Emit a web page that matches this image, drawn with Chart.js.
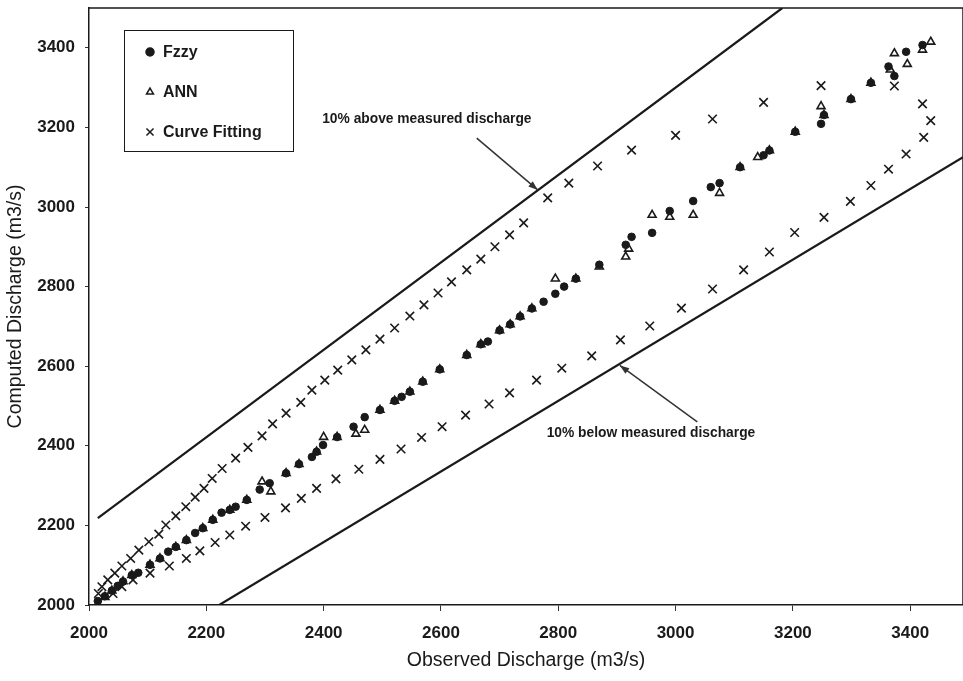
<!DOCTYPE html>
<html><head><meta charset="utf-8">
<script src="https://cdn.jsdelivr.net/npm/chart.js@4.4.1/dist/chart.umd.min.js"></script>
<style>html,body{margin:0;padding:0;background:#fff}#wrap{width:963px;height:681px;position:relative}</style>
</head><body><div id="wrap"><canvas id="c" width="963" height="681"></canvas></div>
<script>
const xTicks=[2000,2200,2400,2600,2800,3000,3200,3400];
const yTicks=[2000,2200,2400,2600,2800,3000,3200,3400];
const seriesNames=['Fzzy','ANN','Curve Fitting'];

const fuzzyX=[2015,2027,2039,2049,2058,2073,2084,2104,2121,2135,2148,2166,2181,2194,2211,2226,2240,2250,2269,2291,2308,2336,2358,2380,2388,2399,2423,2451,2470,2496,2521,2533,2547,2569,2598,2644,2668,2680,2700,2718,2735,2755,2775,2795,2810,2830,2870,2915,2925,2960,2990,3030,3060,3075,3110,3150,3160,3204,3248,3253,3299,3333,3363,3373,3393,3421];
const fuzzyY=[2010,2022,2036,2048,2059,2075,2081,2101,2117,2134,2146,2163,2181,2193,2214,2232,2239,2247,2264,2290,2306,2331,2354,2372,2385,2402,2422,2448,2472,2490,2513,2523,2536,2561,2592,2628,2655,2662,2690,2705,2725,2745,2762,2782,2800,2820,2855,2905,2925,2935,2990,3015,3050,3060,3100,3130,3142,3189,3209,3231,3271,3312,3353,3329,3390,3407];

const annX=[2015,2027,2039,2058,2073,2104,2121,2148,2166,2194,2211,2240,2269,2295,2310,2336,2358,2388,2400,2423,2455,2470,2496,2521,2547,2569,2598,2644,2668,2700,2718,2735,2755,2795,2830,2870,2915,2920,2960,2990,3030,3075,3110,3140,3160,3204,3248,3253,3299,3333,3366,3373,3395,3421,3435];
const annY=[2000,2020,2036,2059,2075,2101,2117,2146,2163,2193,2214,2239,2264,2310,2285,2331,2354,2385,2422,2422,2430,2440,2490,2513,2536,2561,2592,2628,2655,2690,2705,2725,2745,2820,2820,2850,2875,2895,2980,2975,2980,3035,3100,3125,3142,3189,3253,3231,3271,3312,3345,3386,3359,3395,3415];

const cfX=[2016,2022,2032,2044,2056,2071,2085,2102,2119,2131,2148,2165,2181,2196,2210,2227,2250,2271,2295,2313,2336,2361,2380,2402,2424,2448,2472,2496,2521,2547,2571,2595,2618,2644,2668,2692,2717,2741,2782,2818,2867,2925,3000,3063,3150,3248,3373,3421,
 2041,2056,2075,2104,2137,2166,2189,2215,2240,2267,2300,2335,2362,2388,2421,2460,2496,2532,2567,2602,2642,2682,2717,2763,2806,2857,2906,2956,3010,3063,3116,3160,3203,3253,3298,3333,3363,3393,3423,3435];
const cfY=[2029,2046,2063,2080,2098,2117,2138,2159,2178,2201,2224,2247,2271,2293,2318,2343,2369,2396,2425,2455,2482,2509,2540,2565,2590,2616,2641,2668,2696,2726,2754,2784,2812,2842,2869,2900,2930,2960,3023,3060,3103,3143,3180,3221,3263,3305,3304,3259,
 2029,2046,2063,2080,2098,2117,2136,2157,2176,2198,2220,2244,2268,2293,2317,2341,2366,2392,2421,2448,2477,2505,2533,2565,2595,2626,2666,2701,2746,2794,2842,2887,2936,2974,3014,3054,3095,3133,3175,3217];

const upperLineX=[2015,3182], upperLineY=[2218,3500];
const lowerLineX=[2222,3490], lowerLineY=[2000,3125];

const noteTexts=['10% above measured discharge','10% below measured discharge'];
const noteTextX=[2576,2958], noteTextY=[3221,2432];
const noteFromX=[2661,3037], noteFromY=[3173,2460];
const noteToX=[2765,2905], noteToY=[3043,2602];

const zip=(xs,ys)=>xs.map((x,i)=>({x:x,y:ys[i]}));
const INK='#1a1a1a';
const FONT="'Liberation Sans', Arial, sans-serif";

const decor={
  id:'decor',
  afterDraw(chart){
    const ctx=chart.ctx, a=chart.chartArea, xs=chart.scales.x, ys=chart.scales.y;
    ctx.save();
    ctx.strokeStyle=INK; ctx.lineWidth=1.5;
    ctx.beginPath(); ctx.moveTo(a.left,a.top); ctx.lineTo(a.right,a.top); ctx.lineTo(a.right,a.bottom); ctx.stroke();
    ctx.font="bold 13.8px "+FONT; ctx.textAlign='center'; ctx.textBaseline='middle';
    for(let i=0;i<noteTexts.length;i++){
      ctx.fillStyle=INK;
      ctx.fillText(noteTexts[i], xs.getPixelForValue(noteTextX[i]), ys.getPixelForValue(noteTextY[i]));
      const x0=xs.getPixelForValue(noteFromX[i]), y0=ys.getPixelForValue(noteFromY[i]);
      const x1=xs.getPixelForValue(noteToX[i]), y1=ys.getPixelForValue(noteToY[i]);
      ctx.lineWidth=1.5; ctx.strokeStyle='#333';
      ctx.beginPath(); ctx.moveTo(x0,y0); ctx.lineTo(x1,y1); ctx.stroke();
      const ang=Math.atan2(y1-y0,x1-x0), L=10, W=0.35;
      ctx.fillStyle='#333';
      ctx.beginPath(); ctx.moveTo(x1,y1);
      ctx.lineTo(x1-L*Math.cos(ang-W), y1-L*Math.sin(ang-W));
      ctx.lineTo(x1-L*Math.cos(ang+W), y1-L*Math.sin(ang+W));
      ctx.closePath(); ctx.fill();
    }
    const lx=a.left+35, ly=a.top+22, lw=169, lh=121;
    ctx.fillStyle='#fff'; ctx.fillRect(lx,ly,lw,lh);
    ctx.strokeStyle=INK; ctx.lineWidth=1; ctx.strokeRect(lx+0.5,ly+0.5,lw,lh);
    const styles=[{pointStyle:'circle',radius:4,fill:INK},{pointStyle:'triangle',radius:4,fill:'#fff'},{pointStyle:'crossRot',radius:5,fill:INK}];
    ctx.font="bold 16px "+FONT; ctx.textAlign='left'; ctx.textBaseline='middle';
    for(let i=0;i<3;i++){
      const cy=ly+22+i*40;
      ctx.fillStyle=styles[i].fill; ctx.strokeStyle=INK; ctx.lineWidth=1.5;
      Chart.helpers.drawPoint(ctx,{pointStyle:styles[i].pointStyle,radius:styles[i].radius,borderWidth:1.5,rotation:0},lx+26,cy);
      ctx.fillStyle=INK;
      ctx.fillText(seriesNames[i], lx+39, cy+1);
    }
    ctx.restore();
  }
};

new Chart(document.getElementById('c'),{
  type:'scatter',
  data:{datasets:[
    {label:'10% above',type:'line',data:zip(upperLineX,upperLineY),borderColor:INK,borderWidth:2.2,pointRadius:0,fill:false,showLine:true},
    {label:'10% below',type:'line',data:zip(lowerLineX,lowerLineY),borderColor:INK,borderWidth:2.2,pointRadius:0,fill:false,showLine:true},
    {label:seriesNames[2],data:zip(cfX,cfY),pointStyle:'crossRot',pointRadius:6,borderColor:INK,borderWidth:1.6,backgroundColor:INK},
    {label:seriesNames[1],data:zip(annX,annY),pointStyle:'triangle',pointRadius:4.6,borderColor:INK,borderWidth:1.6,backgroundColor:'rgba(255,255,255,0)'},
    {label:seriesNames[0],data:zip(fuzzyX,fuzzyY),pointStyle:'circle',pointRadius:3.8,borderColor:INK,borderWidth:1,backgroundColor:INK}
  ]},
  options:{
    responsive:false, devicePixelRatio:1, animation:false,
    layout:{autoPadding:false,padding:{top:8,left:0,right:0,bottom:0}},
    plugins:{legend:{display:false},tooltip:{enabled:false}},
    scales:{
      x:{type:'linear',min:2000,max:3490,
        afterBuildTicks:s=>{s.ticks=xTicks.map(v=>({value:v}));},
        afterFit:s=>{s.height=76;s.paddingLeft=0;s.paddingRight=0;},
        ticks:{font:{family:FONT,size:17,weight:'bold'},color:INK,padding:12,callback:v=>String(v)},
        grid:{drawOnChartArea:false,drawTicks:true,tickLength:6,color:'#333',tickWidth:1},
        border:{display:true,color:INK,width:1.5},
        title:{display:true,text:'Observed Discharge (m3/s)',font:{family:FONT,size:19.5},color:INK,padding:{top:0,bottom:9}}
      },
      y:{type:'linear',min:2000,max:3500,
        afterBuildTicks:s=>{s.ticks=yTicks.map(v=>({value:v}));},
        afterFit:s=>{s.width=89;s.paddingTop=0;s.paddingBottom=0;},
        ticks:{font:{family:FONT,size:17,weight:'bold'},color:INK,padding:10,callback:v=>String(v)},
        grid:{drawOnChartArea:false,drawTicks:true,tickLength:4,color:'#333',tickWidth:1},
        border:{display:true,color:INK,width:1.5},
        title:{display:true,text:'Computed Discharge (m3/s)',font:{family:FONT,size:19.5},color:INK,padding:{top:4,bottom:0}}
      }
    }
  },
  plugins:[decor]
});
</script></body></html>
